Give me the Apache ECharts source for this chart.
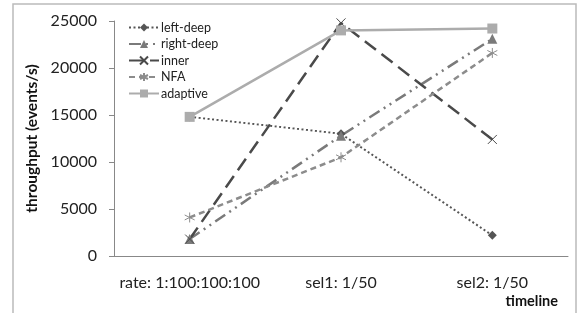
<!doctype html>
<html>
    <head>
        <meta charset="utf-8">
        <style>
            html, body { margin: 0; padding: 0; background: #fff; }
            #main { width: 582px; height: 313px; }
        </style>
    </head>
    <body>
        <div id="main"></div>
        <script src="https://cdn.jsdelivr.net/npm/echarts@6/dist/echarts.min.js"></script>
        <script>
            var categories = ['rate: 1:100:100:100', 'sel1: 1/50', 'sel2: 1/50'];
            var leftDeep = [14800, 13000, 2200];
            var rightDeep = [1800, 12800, 23100];
            var inner = [1800, 24800, 12400];
            var nfa = [4100, 10500, 21600];
            var adaptive = [14800, 24000, 24200];

            var FONT = 'Lato';
            var X_PATH = 'path://M0,0L10,10M10,0L0,10';
            var STAR_PATH = 'path://M5,0L5,10M0,2.5L10,7.5M10,2.5L0,7.5';

            function makeSeries(name, data, color, dash, symbol, size, width) {
                var stroke = symbol.indexOf('path://') === 0;
                return {
                    name: name,
                    type: 'line',
                    data: data,
                    symbol: symbol,
                    symbolSize: size,
                    lineStyle: { color: color, width: width, type: dash },
                    itemStyle: stroke
                        ? { color: 'rgba(0,0,0,0)', borderColor: color, borderWidth: 1 }
                        : { color: color },
                    emphasis: { disabled: true }
                };
            }

            var chart = echarts.init(document.getElementById('main'));

            chart.setOption({
                animation: false,
                textStyle: { fontFamily: FONT },
                graphic: [{
                    type: 'rect',
                    shape: { x: 13, y: 4, width: 563, height: 320 },
                    style: { fill: 'none', stroke: '#bbb', lineWidth: 1.5 },
                    silent: true
                }],
                grid: { left: 114, right: 14, top: 21, bottom: 57 },
                legend: {
                    orient: 'vertical',
                    left: 128,
                    top: 20,
                    padding: 0,
                    itemWidth: 30,
                    itemHeight: 10,
                    itemGap: 1.5,
                    textStyle: { fontFamily: FONT, fontSize: 12.5, lineHeight: 15, color: '#222', padding: [0, 0, 0, -3] },
                    data: ['left-deep', 'right-deep', 'inner', 'NFA', 'adaptive']
                },
                xAxis: {
                    type: 'category',
                    data: categories,
                    boundaryGap: true,
                    name: 'timeline',
                    nameLocation: 'end',
                    nameGap: 0,
                    nameTextStyle: {
                        fontFamily: FONT, fontSize: 14.5, fontWeight: 'bold', color: '#111',
                        align: 'right', verticalAlign: 'top', padding: [38, 10, 0, 0]
                    },
                    axisLine: { lineStyle: { color: '#888', width: 1 } },
                    axisTick: { length: 5, lineStyle: { color: '#888' } },
                    axisLabel: { fontFamily: FONT, fontSize: 16, color: '#222', margin: 19, interval: 0 },
                    splitLine: { show: false }
                },
                yAxis: {
                    type: 'value',
                    min: 0,
                    max: 25000,
                    interval: 5000,
                    name: 'throughput (events/s)',
                    nameLocation: 'middle',
                    nameGap: 66,
                    nameTextStyle: { fontFamily: FONT, fontSize: 15.5, fontWeight: 'bold', color: '#111' },
                    axisLine: { show: true, lineStyle: { color: '#888', width: 1 } },
                    axisTick: { show: true, length: 5, lineStyle: { color: '#888' } },
                    axisLabel: {
                        fontFamily: FONT, fontSize: 16, color: '#222', margin: 17,
                        formatter: function (v) { return String(v); }
                    },
                    splitLine: { show: false }
                },
                series: [
                    makeSeries('left-deep', leftDeep, '#555', [2, 2.5], 'diamond', 9, 2),
                    makeSeries('right-deep', rightDeep, '#7a7a7a', [12, 5, 2, 5, 2, 5], 'triangle', 10, 2.5),
                    makeSeries('inner', inner, '#4a4a4a', [14, 7], X_PATH, 9, 2.5),
                    makeSeries('NFA', nfa, '#8c8c8c', [6, 4], STAR_PATH, 10, 2.5),
                    makeSeries('adaptive', adaptive, '#acacac', 'solid', 'rect', 10, 2.5)
                ]
            });

            window.addEventListener('resize', function () {
                chart.resize();
            });
        </script>
    </body>
</html>
